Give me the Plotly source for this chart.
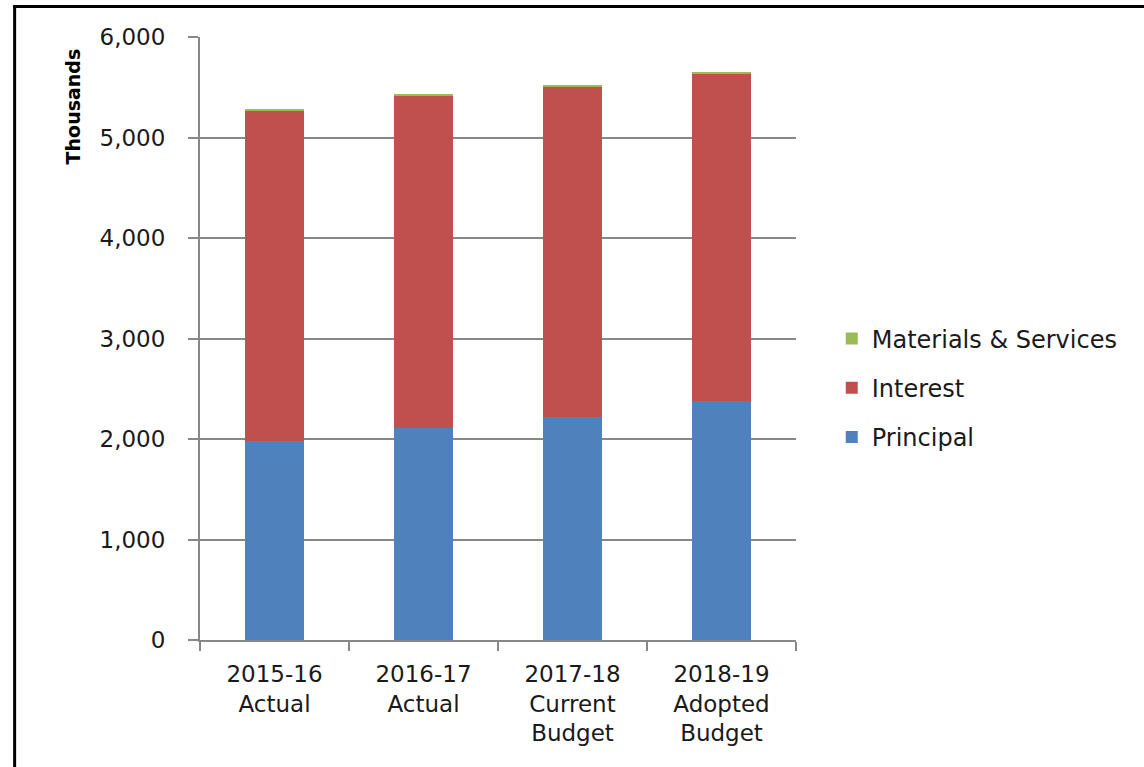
import plotly.graph_objects as go

categories = ["2015-16<br>Actual", "2016-17<br>Actual", "2017-18<br>Current<br>Budget", "2018-19<br>Adopted<br>Budget"]
principal = [1976, 2111, 2214, 2379]
interest = [3296, 3307, 3292, 3262]
materials = [14, 13, 14, 13]
y_ticks = [0, 1000, 2000, 3000, 4000, 5000, 6000]

FONT = "DejaVu Sans"
GRID = "#878787"

fig = go.Figure()
fig.add_trace(go.Bar(x=categories, y=principal, name="Principal", marker_color="#4F81BD",
                     marker_line_width=0, legendgroup="p", legendrank=3))
fig.add_trace(go.Bar(x=categories, y=interest, name="Interest", marker_color="#C0504D",
                     marker_line_width=0, legendgroup="i", legendrank=2))
fig.add_trace(go.Bar(x=categories, y=materials, name="Materials & Services", marker_color="#9BBB59",
                     marker_line_width=0, legendgroup="m", legendrank=1))

fig.update_layout(
    barmode="stack",
    bargap=0.6,
    width=1144, height=767,
    margin=dict(l=200, r=348, t=37, b=127, pad=0),
    paper_bgcolor="white", plot_bgcolor="white",
    font=dict(family=FONT, color="#1a1a1a", size=22),
    legend=dict(traceorder="grouped", x=1.06, xanchor="left", y=0.418, yanchor="middle",
                font=dict(size=24, family=FONT, color="#1a1a1a"), tracegroupgap=15,
                itemwidth=30),
    showlegend=True,
    xaxis=dict(showline=True, linecolor=GRID, linewidth=2, ticks="outside", tickson="boundaries",
               ticklen=9, tickwidth=2, tickcolor=GRID, showgrid=False,
               ticklabelstandoff=12,
               tickfont=dict(size=23, family=FONT, color="#1a1a1a")),
    yaxis=dict(range=[0, 6000], tickvals=y_ticks, tickformat=",d", showline=True, linecolor=GRID,
               linewidth=2, ticks="outside", ticklen=10, tickwidth=2, tickcolor=GRID,
               showgrid=True, gridcolor=GRID, gridwidth=2, zeroline=False,
               ticklabelstandoff=18,
               tickfont=dict(size=23, family=FONT, color="#1a1a1a")),
    annotations=[dict(text="<b>Thousands</b>", textangle=-90, xref="paper", yref="paper",
                      x=-0.213, y=0.885, xanchor="center", yanchor="middle", showarrow=False,
                      font=dict(size=19, family=FONT, color="#000000"))],
    shapes=[
        dict(type="line", xref="paper", yref="paper", x0=-0.311, x1=-0.311, y0=1.052, y1=-0.3,
             line=dict(color="black", width=3)),
        dict(type="line", xref="paper", yref="paper", x0=-0.3135, x1=1.6, y0=1.0505, y1=1.0505,
             line=dict(color="black", width=3)),
    ],
)

fig.write_html("out.html")
